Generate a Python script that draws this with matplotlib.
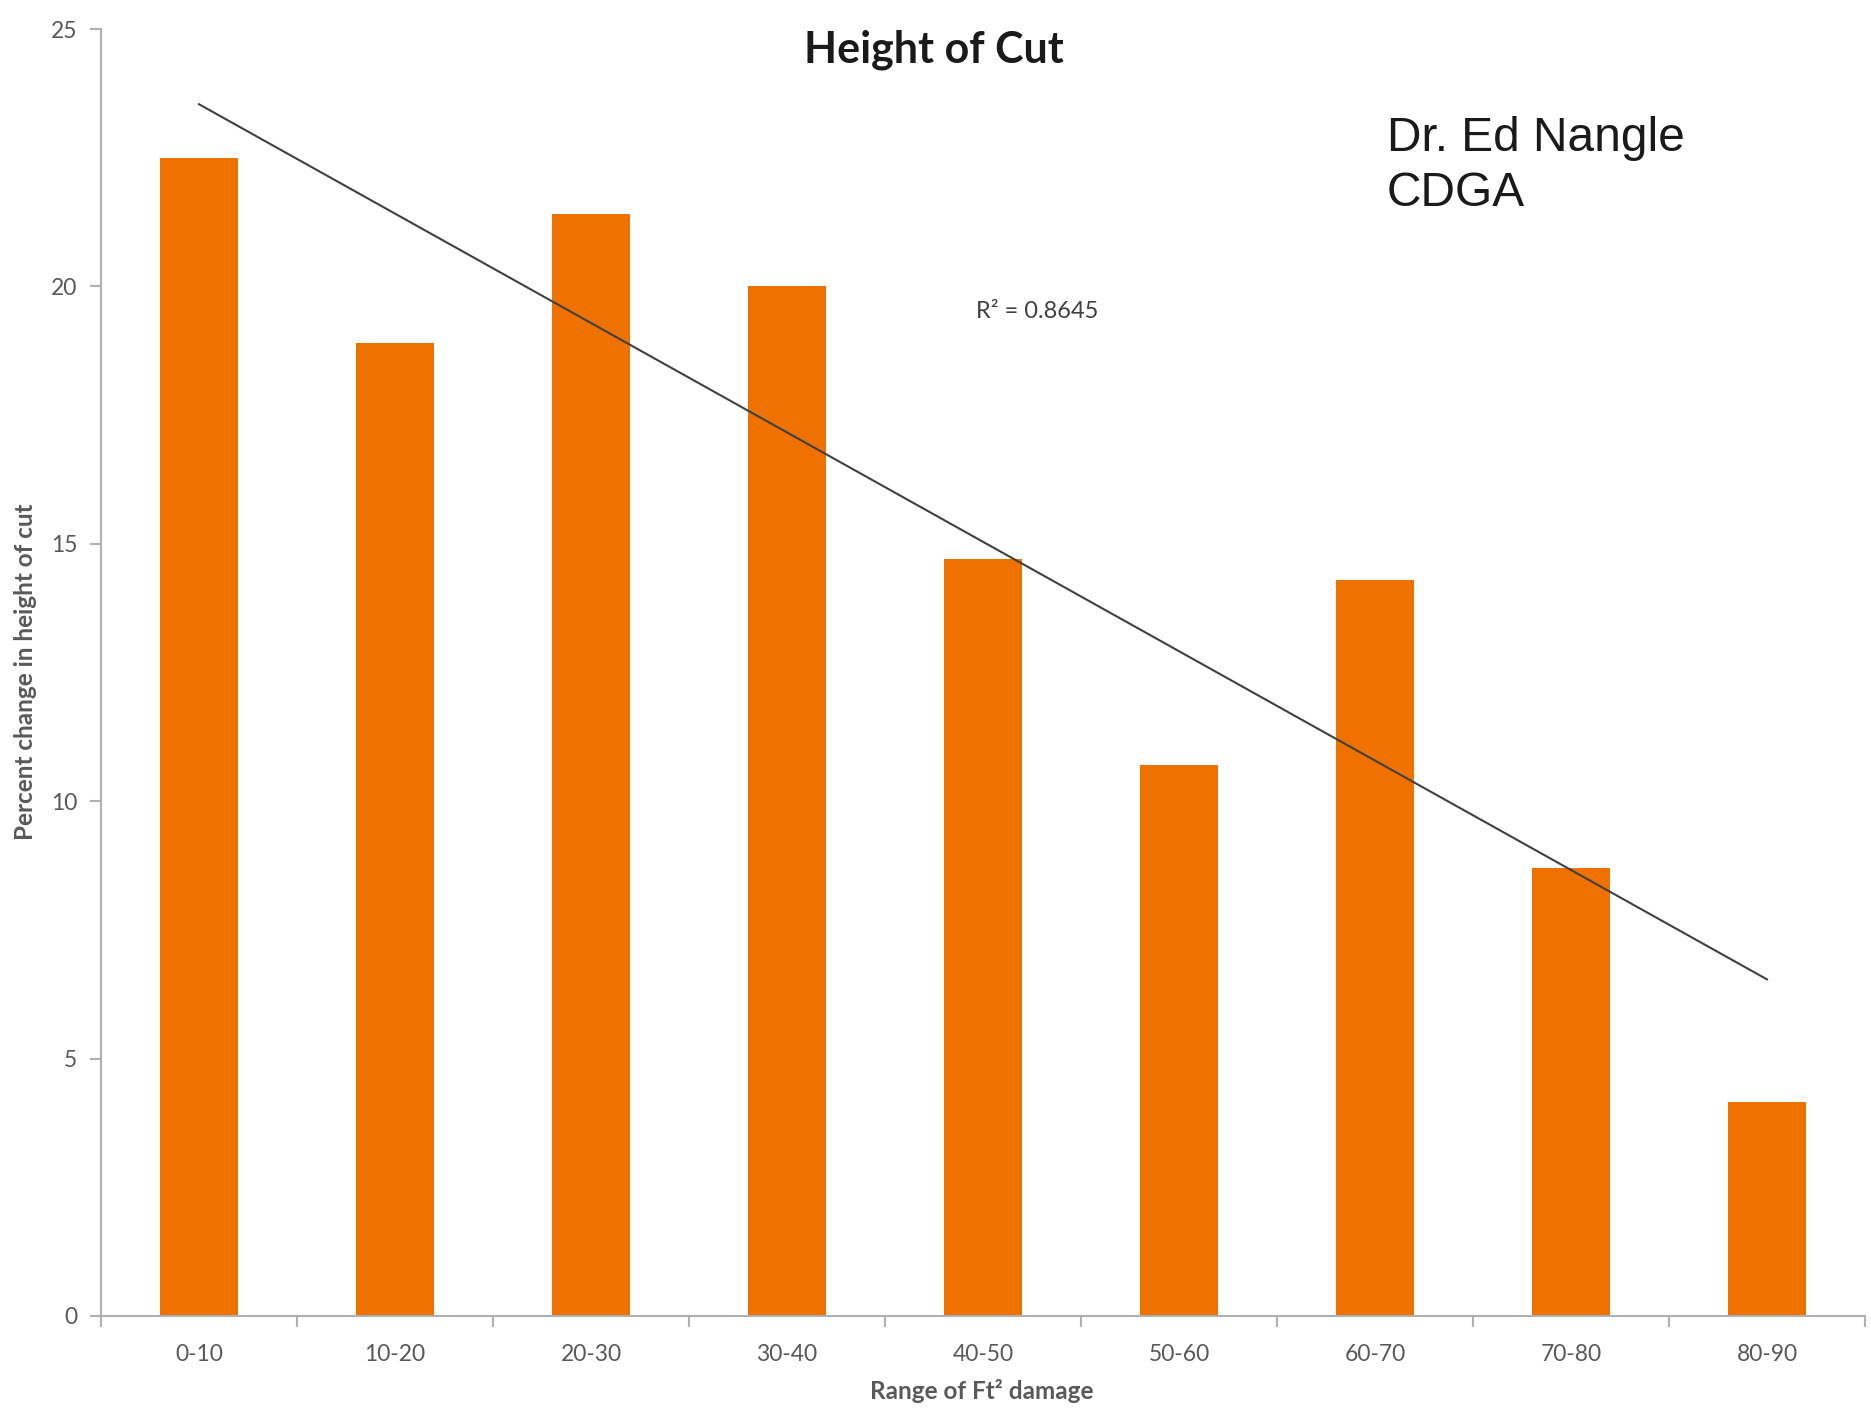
import matplotlib
matplotlib.use("Agg")
import matplotlib.pyplot as plt
import numpy as np

# Damage ranges and percent change in height of cut
categories = ["0-10", "10-20", "20-30", "30-40", "40-50", "50-60", "60-70", "70-80", "80-90"]
values = [22.5, 18.9, 21.4, 20.0, 14.7, 10.7, 14.3, 8.7, 4.15]
y_ticks = [0, 5, 10, 15, 20, 25]
r2_label = "R\u00b2 = 0.8645"

W, H, DPI = 1871, 1408, 100
fig = plt.figure(figsize=(W / DPI, H / DPI), dpi=DPI)
fig.patch.set_facecolor("white")

ax = fig.add_axes([101 / W, 1 - 1316 / H, (1865 - 101) / W, (1316 - 29) / H])

x = np.arange(1, len(categories) + 1)
ax.bar(x, values, width=0.40, color="#EF7200", zorder=2)

# Linear trendline across the bar centres
slope, intercept = np.polyfit(x, values, 1)
ax.plot(x[[0, -1]], slope * x[[0, -1]] + intercept, color="#404040", lw=1.5, zorder=3)

ax.set_xlim(0.5, len(categories) + 0.5)
ax.set_ylim(0, 25)

grey_axis = "#b0b0b0"
label_col = "#595959"
for s in ("top", "right"):
    ax.spines[s].set_visible(False)
for s in ("left", "bottom"):
    ax.spines[s].set_color(grey_axis)
    ax.spines[s].set_linewidth(1.5)

ax.set_yticks(y_ticks)
ax.set_yticklabels([str(v) for v in y_ticks], fontsize=16.5, color=label_col, family="Lato")
ax.tick_params(axis="y", length=8, width=1.5, color=grey_axis, pad=9)

# Category boundaries carry the tick marks; labels sit at the centres
ax.set_xticks(np.arange(0.5, len(categories) + 1, 1.0))
ax.set_xticklabels([])
ax.set_xticks(x, minor=True)
ax.set_xticklabels(categories, minor=True, fontsize=16.5, color=label_col, family="Lato")
ax.tick_params(axis="x", which="major", length=8, width=1.5, color=grey_axis)
ax.tick_params(axis="x", which="minor", length=0, pad=20)

fig.text(934 / W, 1 - 50 / H, "Height of Cut", ha="center", va="center",
         fontsize=31, fontweight="bold", family="Lato", color="#1a1a1a")
fig.text(982 / W, 1 - 1391 / H, "Range of Ft\u00b2 damage", ha="center", va="center",
         fontsize=17.5, fontweight="bold", family="Lato", color=label_col)
fig.text(26 / W, 1 - 672 / H, "Percent change in height of cut", ha="center", va="center",
         rotation=90, fontsize=17.5, fontweight="bold", family="Lato", color=label_col)

fig.text(976 / W, 1 - 311 / H, r2_label, ha="left", va="center",
         fontsize=17, family="Lato", color="#404040")

fig.text(1387 / W, 1 - 116 / H, "Dr. Ed Nangle\nCDGA", ha="left", va="top",
         fontsize=34.5, family="Liberation Sans", color="#1a1a1a", linespacing=1.3)

fig.savefig("out.png", dpi=DPI, facecolor="white")
